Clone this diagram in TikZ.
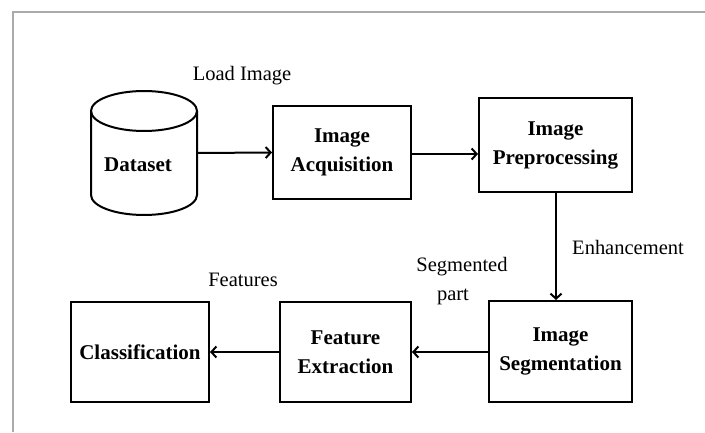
\documentclass[tikz,border=0pt]{standalone}
\usepackage{fontspec}
\setmainfont{Liberation Serif}
\usetikzlibrary{arrows.meta,calc}
\definecolor{framegray}{HTML}{AAAAAA}
\begin{document}
\begin{tikzpicture}[x=1pt,y=1pt,
  box/.style={draw,line width=2pt,inner sep=0pt,align=center,font=\fontsize{21}{29}\selectfont\bfseries},
  lbl/.style={inner sep=0pt,align=center,font=\fontsize{20.5}{28.5}\selectfont},
  arr/.style={line width=2pt,-{Straight Barb[length=5pt,width=11pt,line width=2pt]}}]
\useasboundingbox (0,0) rectangle (705,432);
% frame
\draw[framegray,line width=2pt] (12.5,0) -- (12.5,419.5) -- (705,419.5);
% dataset cylinder
\node[minimum width=106pt,minimum height=124pt,inner sep=0pt] (dataset) at (144,279) {};
\draw[line width=2pt] (144,321) ellipse [x radius=53, y radius=20];
\draw[line width=2pt] (91,321) -- (91,237) arc[start angle=180,end angle=360,x radius=53,y radius=20] -- (197,321);
\node[lbl,font=\fontsize{21}{29}\selectfont\bfseries] (dstxt) at (138,267) {Dataset};
% boxes
\node[box,minimum width=138pt,minimum height=93pt] (acq) at (342,279.5) {Image\\Acquisition};
\node[box,minimum width=153pt,minimum height=94pt] (prep) at (555.5,287) {Image\\Preprocessing};
\node[box,minimum width=143pt,minimum height=101pt] (seg) at (560.5,80.5) {Image\\Segmentation};
\node[box,minimum width=131pt,minimum height=100pt] (fe) at (345.5,80) {Feature\\Extraction};
\node[box,minimum width=138pt,minimum height=100pt] (cls) at (140,80) {Classification};
% labels
\node[lbl] (load) at (242,356) {Load Image};
\node[lbl] (enh) at (628,185) {Enhancement};
\node[lbl] (segp) at (462,151) {Segmented\\part\hspace{18pt}\mbox{}};
\node[lbl] (feat) at (243,152) {Features};
% arrows
\draw[arr] (dataset.east) -- (acq.west);
\draw[arr] (acq.east |- 0,278) -- (prep.west |- 0,278);
\draw[arr] (prep.south -| 556,0) -- (seg.north -| 556,0);
\draw[arr] (seg.west |- 0,80) -- (fe.east |- 0,80);
\draw[arr] (fe.west) -- (cls.east);
\end{tikzpicture}
\end{document}
